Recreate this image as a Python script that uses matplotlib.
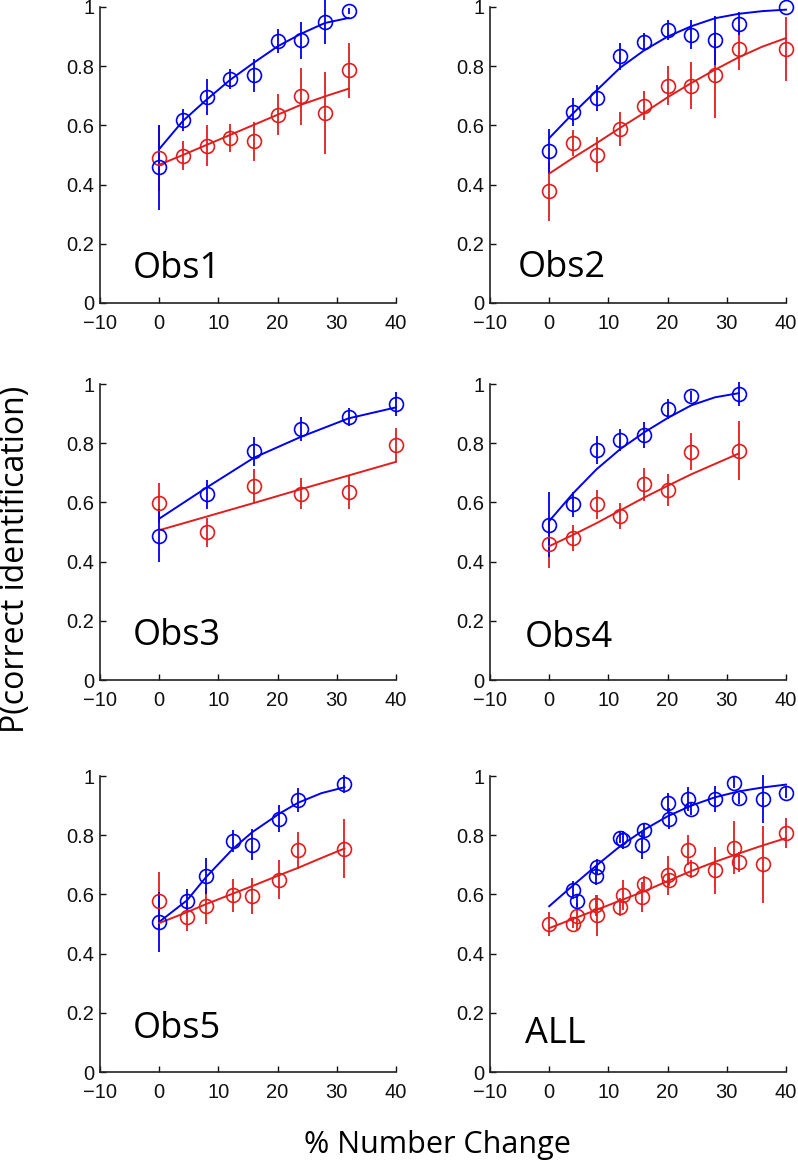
import matplotlib
matplotlib.use("Agg")
from matplotlib import pyplot as plt

# colours (matlab-ish)
blue = "#0000ee"
red = "#e01e1e"

# ---- Obs1 ----
obs1_x = [0, 4, 8, 12, 16, 20, 24, 28, 32]
obs1_blue = [0.458, 0.617, 0.696, 0.758, 0.769, 0.884, 0.887, 0.949, 0.988]
obs1_blue_err = [0.145, 0.037, 0.06, 0.034, 0.056, 0.04, 0.062, 0.073, 0.01]
obs1_red = [0.49, 0.498, 0.532, 0.557, 0.546, 0.636, 0.698, 0.642, 0.786]
obs1_red_err = [0.11, 0.048, 0.068, 0.047, 0.066, 0.07, 0.096, 0.137, 0.092]
obs1_fit_x = [0, 4, 8, 12, 16, 20, 24, 28, 32]
obs1_blue_fit = [0.52, 0.615, 0.687, 0.754, 0.812, 0.867, 0.91, 0.946, 0.963]
obs1_red_fit = [0.467, 0.5, 0.534, 0.568, 0.602, 0.636, 0.67, 0.698, 0.724]

# ---- Obs2 ----
obs2_x = [0, 4, 8, 12, 16, 20, 24, 28, 32, 40]
obs2_blue = [0.512, 0.645, 0.693, 0.833, 0.881, 0.923, 0.907, 0.887, 0.944, 1.0]
obs2_blue_err = [0.076, 0.047, 0.045, 0.045, 0.03, 0.034, 0.05, 0.083, 0.04, 0.0]
obs2_red = [0.377, 0.54, 0.501, 0.588, 0.667, 0.734, 0.734, 0.771, 0.858, 0.858]
obs2_red_err = [0.1, 0.045, 0.06, 0.056, 0.05, 0.066, 0.08, 0.145, 0.07, 0.107]
obs2_fit_x = [0, 4, 8, 12, 16, 20, 24, 28, 32, 36, 40]
obs2_blue_fit = [0.557, 0.64, 0.718, 0.795, 0.853, 0.9, 0.935, 0.962, 0.977, 0.986, 0.991]
obs2_red_fit = [0.437, 0.49, 0.54, 0.592, 0.642, 0.695, 0.743, 0.788, 0.83, 0.866, 0.895]

# ---- Obs3 ----
obs3_x = [0, 8, 16, 24, 32, 40]
obs3_blue = [0.488, 0.627, 0.772, 0.847, 0.889, 0.932]
obs3_blue_err = [0.09, 0.049, 0.048, 0.04, 0.03, 0.04]
obs3_red = [0.599, 0.499, 0.655, 0.629, 0.634, 0.793]
obs3_red_err = [0.068, 0.048, 0.058, 0.052, 0.056, 0.058]
obs3_fit_x = [0, 8, 16, 24, 32, 40]
obs3_blue_fit = [0.545, 0.65, 0.751, 0.822, 0.884, 0.921]
obs3_red_fit = [0.506, 0.552, 0.598, 0.645, 0.691, 0.737]

# ---- Obs4 ----
obs4_x = [0, 4, 8, 12, 16, 20, 24, 32]
obs4_blue = [0.525, 0.593, 0.776, 0.811, 0.828, 0.915, 0.958, 0.967]
obs4_blue_err = [0.11, 0.042, 0.047, 0.037, 0.045, 0.034, 0.02, 0.04]
obs4_red = [0.458, 0.48, 0.593, 0.554, 0.661, 0.642, 0.771, 0.774]
obs4_red_err = [0.08, 0.045, 0.048, 0.045, 0.056, 0.054, 0.062, 0.1]
obs4_fit_x = [0, 4, 8, 12, 16, 20, 24, 28, 32]
obs4_blue_fit = [0.537, 0.63, 0.712, 0.78, 0.836, 0.885, 0.928, 0.955, 0.969]
obs4_red_fit = [0.452, 0.49, 0.53, 0.573, 0.616, 0.656, 0.695, 0.73, 0.765]

# ---- Obs5 ----
obs5_x = [0, 4.7, 7.9, 12.5, 15.7, 20.3, 23.5, 31.3]
obs5_blue = [0.507, 0.577, 0.662, 0.78, 0.768, 0.856, 0.918, 0.972]
obs5_blue_err = [0.1, 0.04, 0.06, 0.036, 0.052, 0.045, 0.04, 0.03]
obs5_red = [0.577, 0.524, 0.561, 0.597, 0.595, 0.65, 0.749, 0.755]
obs5_red_err = [0.097, 0.047, 0.062, 0.055, 0.062, 0.066, 0.063, 0.1]
obs5_fit_x = [0, 4.7, 7.9, 12.5, 15.7, 20.3, 23.5, 27.4, 31.3]
obs5_blue_fit = [0.507, 0.58, 0.658, 0.755, 0.81, 0.873, 0.91, 0.942, 0.962]
obs5_red_fit = [0.503, 0.54, 0.567, 0.603, 0.628, 0.665, 0.69, 0.723, 0.755]

# ---- ALL ----
all_x = [4.1, 4.65, 7.9, 8.0, 12.0, 12.4, 15.6, 16.0, 20.0, 20.3, 23.5, 24.0,
         28.0, 31.2, 32.0, 36.1, 40.0]
all_blue = [0.614, 0.577, 0.661, 0.694, 0.792, 0.785, 0.766, 0.816, 0.909, 0.856,
            0.922, 0.889, 0.922, 0.978, 0.924, 0.922, 0.944]
all_blue_err = [0.03, 0.02, 0.03, 0.025, 0.02, 0.03, 0.045, 0.025, 0.035, 0.035,
                0.04, 0.02, 0.045, 0.02, 0.02, 0.08, 0.02]
all_red_x = [0, 4.1, 4.65, 7.9, 8.0, 12.0, 12.5, 15.6, 16.0, 20.0, 20.3, 23.5, 24.0,
             28.0, 31.2, 32.0, 36.1, 40.0]
all_red = [0.499, 0.501, 0.526, 0.563, 0.529, 0.557, 0.597, 0.591, 0.636, 0.664,
           0.648, 0.749, 0.687, 0.681, 0.758, 0.709, 0.702, 0.807]
all_red_err = [0.04, 0.015, 0.045, 0.035, 0.07, 0.03, 0.05, 0.05, 0.025, 0.065,
               0.02, 0.05, 0.03, 0.08, 0.09, 0.035, 0.13, 0.05]
all_fit_x = [0, 4, 8, 12, 16, 20, 24, 28, 32, 36, 40]
all_blue_fit = [0.56, 0.63, 0.698, 0.763, 0.818, 0.864, 0.9, 0.928, 0.948, 0.961, 0.971]
all_red_fit = [0.486, 0.517, 0.548, 0.579, 0.61, 0.645, 0.679, 0.71, 0.738, 0.765, 0.79]

panels = [
    ("Obs1", obs1_x, obs1_blue, obs1_blue_err, obs1_x, obs1_red, obs1_red_err,
     obs1_fit_x, obs1_blue_fit, obs1_red_fit, (-4.4, 0.085)),
    ("Obs2", obs2_x, obs2_blue, obs2_blue_err, obs2_x, obs2_red, obs2_red_err,
     obs2_fit_x, obs2_blue_fit, obs2_red_fit, (-5.3, 0.088)),
    ("Obs3", obs3_x, obs3_blue, obs3_blue_err, obs3_x, obs3_red, obs3_red_err,
     obs3_fit_x, obs3_blue_fit, obs3_red_fit, (-4.4, 0.119)),
    ("Obs4", obs4_x, obs4_blue, obs4_blue_err, obs4_x, obs4_red, obs4_red_err,
     obs4_fit_x, obs4_blue_fit, obs4_red_fit, (-4.1, 0.112)),
    ("Obs5", obs5_x, obs5_blue, obs5_blue_err, obs5_x, obs5_red, obs5_red_err,
     obs5_fit_x, obs5_blue_fit, obs5_red_fit, (-4.4, 0.115)),
    ("ALL", all_x, all_blue, all_blue_err, all_red_x, all_red, all_red_err,
     all_fit_x, all_blue_fit, all_red_fit, (-4.1, 0.098)),
]

W, H = 798, 1166
fig = plt.figure(figsize=(W / 100, H / 100), dpi=100)

lefts = [100, 490]
bottoms = [303, 680, 1072]
aw, ah = 296, 296

for i, p in enumerate(panels):
    name, bx, by, be, rx, ry, re_, fx, bfit, rfit, lab = p
    l = lefts[i % 2]
    b = bottoms[i // 2]
    ax = fig.add_axes([l / W, 1 - b / H, aw / W, ah / H])

    for x, y, e, c in [(rx, ry, re_, red), (bx, by, be, blue)]:
        eb = ax.errorbar(x, y, yerr=e, fmt="o", color=c, mfc="none", mec=c,
                         ms=10, mew=1.2, elinewidth=1.3, capsize=0)
        eb[0].set_clip_on(False)
        for coll in eb[2]:
            coll.set_clip_on(False)
    ax.plot(fx, bfit, color=blue, lw=1.4, clip_on=False)
    ax.plot(fx, rfit, color=red, lw=1.4, clip_on=False)

    ax.set_xlim(-10, 40)
    ax.set_ylim(0, 1)
    ax.set_xticks([-10, 0, 10, 20, 30, 40])
    ax.set_yticks([0, 0.2, 0.4, 0.6, 0.8, 1])
    ax.set_yticklabels(["0", "0.2", "0.4", "0.6", "0.8", "1"])
    ax.set_xticklabels(["\u221210", "0", "10", "20", "30", "40"])
    for s in ["top", "right"]:
        ax.spines[s].set_visible(False)
    for s in ["left", "bottom"]:
        ax.spines[s].set_color("#222222")
        ax.spines[s].set_linewidth(1.2)
    ax.tick_params(direction="in", length=4, width=1,
                   labelsize=14.5, colors="#111111")
    ax.tick_params(axis="x", pad=8)
    ax.tick_params(axis="y", pad=4)
    for t in ax.get_xticklabels() + ax.get_yticklabels():
        t.set_family("Liberation Sans")
    ax.text(lab[0], lab[1], name, fontsize=26, family="Open Sans",
            va="baseline", ha="left")

fig.text(16 / W, 1 - 559 / H, "P(correct identification)", rotation=90,
         fontsize=23, family="Open Sans", ha="center", va="center")
fig.text(437 / W, 1 - 1145 / H, "% Number Change", fontsize=22,
         family="Open Sans", ha="center", va="center")

fig.savefig("out.png", dpi=100)
